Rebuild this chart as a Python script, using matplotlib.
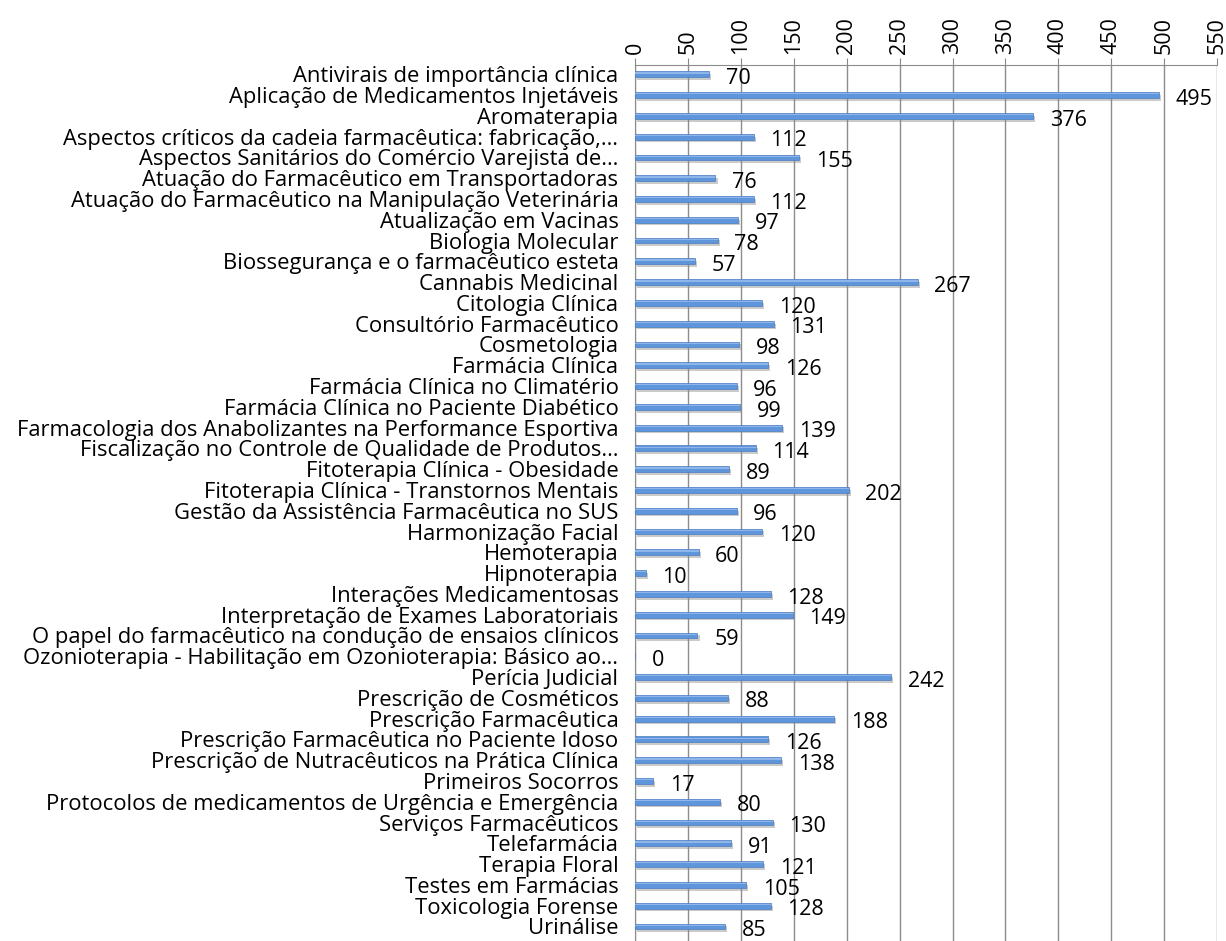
import matplotlib
matplotlib.use("Agg")
import matplotlib.pyplot as plt
import matplotlib.patheffects as pe

categories = [
    "Antivirais de importância clínica",
    "Aplicação de Medicamentos Injetáveis",
    "Aromaterapia",
    "Aspectos críticos da cadeia farmacêutica: fabricação,…",
    "Aspectos Sanitários do Comércio Varejista de…",
    "Atuação do Farmacêutico em Transportadoras",
    "Atuação do Farmacêutico na Manipulação Veterinária",
    "Atualização em Vacinas",
    "Biologia Molecular",
    "Biossegurança e o farmacêutico esteta",
    "Cannabis Medicinal",
    "Citologia Clínica",
    "Consultório Farmacêutico",
    "Cosmetologia",
    "Farmácia Clínica",
    "Farmácia Clínica no Climatério",
    "Farmácia Clínica no Paciente Diabético",
    "Farmacologia dos Anabolizantes na Performance Esportiva",
    "Fiscalização no Controle de Qualidade de Produtos…",
    "Fitoterapia Clínica - Obesidade",
    "Fitoterapia Clínica - Transtornos Mentais",
    "Gestão da Assistência Farmacêutica no SUS",
    "Harmonização Facial",
    "Hemoterapia",
    "Hipnoterapia",
    "Interações Medicamentosas",
    "Interpretação de Exames Laboratoriais",
    "O papel do farmacêutico na condução de ensaios clínicos",
    "Ozonioterapia - Habilitação em Ozonioterapia: Básico ao…",
    "Perícia Judicial",
    "Prescrição de Cosméticos",
    "Prescrição Farmacêutica",
    "Prescrição Farmacêutica no Paciente Idoso",
    "Prescrição de Nutracêuticos na Prática Clínica",
    "Primeiros Socorros",
    "Protocolos de medicamentos de Urgência e Emergência",
    "Serviços Farmacêuticos",
    "Telefarmácia",
    "Terapia Floral",
    "Testes em Farmácias",
    "Toxicologia Forense",
    "Urinálise",
]
values = [70, 495, 376, 112, 155, 76, 112, 97, 78, 57, 267, 120, 131, 98, 126,
          96, 99, 139, 114, 89, 202, 96, 120, 60, 10, 128, 149, 59, 0, 242,
          88, 188, 126, 138, 17, 80, 130, 91, 121, 105, 128, 85]
xticks = list(range(0, 551, 50))

plt.rcParams['font.family'] = ['Open Sans', 'DejaVu Sans']

fig = plt.figure(figsize=(12.26, 9.41), dpi=100)
ax = fig.add_axes([0.518, 0.0, 0.4747, 0.931])

y = list(range(len(categories)))
bars = ax.barh(y, values, height=0.28, color='#5F95DA', edgecolor='#4A7CC0',
               linewidth=0.5, zorder=3)
for b in bars:
    b.set_path_effects([pe.SimplePatchShadow(offset=(1.5, -2), shadow_rgbFace='#8a8a8a', alpha=0.45), pe.Normal()])
ax.barh([yi - 0.06 for yi in y], values, height=0.06, color='#8FB6EA', linewidth=0, zorder=4)

for yi, v in zip(y, values):
    ax.annotate(str(v), xy=(v, yi), xytext=(12, -3), textcoords='offset points',
                ha='left', va='center', fontsize=15.5, zorder=5)

ax.set_xlim(0, 550)
ax.set_ylim(41.7, -0.45)
ax.set_xticks(xticks)
ax.xaxis.tick_top()
ax.tick_params(axis='x', labelrotation=90, labelsize=15.5, length=5, color='#888888', pad=3)
ax.set_yticks(y)
ax.set_yticklabels(categories, fontsize=15.8)
ax.tick_params(axis='y', length=0, pad=12)
ax.grid(axis='x', color='#8c8c8c', linewidth=1.0, zorder=0)
for s in ['right', 'bottom']:
    ax.spines[s].set_visible(False)
ax.spines['top'].set_color('#8c8c8c')
ax.spines['left'].set_color('#8c8c8c')

fig.savefig('out.png', dpi=100)
